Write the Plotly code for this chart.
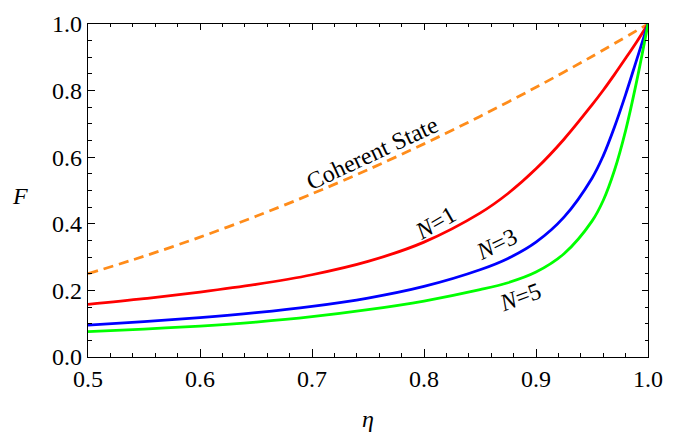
import plotly.graph_objects as go

# values (eta, F)
eta_c = [0.5, 0.55, 0.6, 0.65, 0.7, 0.75, 0.8, 0.85, 0.9, 0.95, 1.0]
coherent = [0.25, 0.3025, 0.36, 0.4225, 0.49, 0.5625, 0.64, 0.7225, 0.81, 0.9025, 1.0]

eta_n = [0.5, 0.55, 0.6, 0.65, 0.7, 0.75, 0.8, 0.85, 0.875, 0.9, 0.925, 0.95, 0.96, 0.97, 0.98, 0.99, 1.0]
n1 = [0.158, 0.175, 0.195, 0.218, 0.247, 0.287, 0.345, 0.432, 0.491, 0.565, 0.654, 0.757, 0.801, 0.848, 0.897, 0.947, 1.0]
n3 = [0.096, 0.106, 0.118, 0.133, 0.152, 0.177, 0.212, 0.262, 0.296, 0.345, 0.420, 0.537, 0.604, 0.690, 0.788, 0.894, 1.0]
n5 = [0.076, 0.084, 0.093, 0.105, 0.121, 0.142, 0.168, 0.202, 0.223, 0.255, 0.310, 0.408, 0.470, 0.560, 0.680, 0.830, 1.0]

x_ticks = [0.5, 0.6, 0.7, 0.8, 0.9, 1.0]
y_ticks = [0.0, 0.2, 0.4, 0.6, 0.8, 1.0]

labels = [
    ("Coherent State", 0.754, 0.613, -25),
    ("<i>N</i>=1", 0.810, 0.403, -30),
    ("<i>N</i>=3", 0.865, 0.340, -26),
    ("<i>N</i>=5", 0.886, 0.179, -20),
]

FONT = "Liberation Serif"

fig = go.Figure()
fig.add_trace(go.Scatter(x=eta_c, y=coherent, mode="lines", hoverinfo="skip",
                         line=dict(color="#FF8C1A", width=2.8, dash="10px,6px", shape="spline", smoothing=0.8)))
fig.add_trace(go.Scatter(x=eta_n, y=n1, mode="lines",
                         line=dict(color="#FF0000", width=2.8, shape="spline", smoothing=1.0)))
fig.add_trace(go.Scatter(x=eta_n, y=n3, mode="lines",
                         line=dict(color="#0000FF", width=2.8, shape="spline", smoothing=1.0)))
fig.add_trace(go.Scatter(x=eta_n, y=n5, mode="lines",
                         line=dict(color="#00FF00", width=2.8, shape="spline", smoothing=1.0)))
# invisible trace to host the mirrored (top/right) tick axes
fig.add_trace(go.Scatter(x=[x_ticks[0]], y=[y_ticks[0]], mode="lines", xaxis="x2", yaxis="y2",
                         hoverinfo="skip", opacity=0))

for text, x, y, ang in labels:
    fig.add_annotation(x=x, y=y, text=text, showarrow=False, textangle=ang,
                       font=dict(family=FONT, size=24, color="black"))

# axis titles (F is upright, as in the reference)
fig.add_annotation(xref="paper", yref="paper", x=-0.121, y=0.483, text="<i>F</i>", showarrow=False,
                   xanchor="center", yanchor="middle", font=dict(family=FONT, size=24, color="black"))
fig.add_annotation(xref="paper", yref="paper", x=0.5, y=-0.185, text="<i>η</i>", showarrow=False,
                   xanchor="center", yanchor="middle", font=dict(family=FONT, size=24, color="black"))

tickfont = dict(family=FONT, size=24, color="black")
common = dict(showgrid=False, zeroline=False, ticks="inside", tickcolor="black", tickwidth=1.1,
              tickformat=".1f")

fig.update_layout(
    width=692, height=440, showlegend=False,
    font=dict(family=FONT, size=24, color="black"),
    margin=dict(l=88, r=44, t=11, b=83),
    plot_bgcolor="white", paper_bgcolor="white",
    xaxis=dict(range=[0.5, 1.0], tickvals=x_ticks, ticklen=8, showline=True, linecolor="black",
               linewidth=1.3, mirror=True, tickfont=tickfont, ticklabeloverflow="allow",
               minor=dict(dtick=0.02, tick0=0.5, ticks="inside", ticklen=4, tickcolor="black", tickwidth=1),
               **common),
    yaxis=dict(range=[0.0, 1.0], tickvals=y_ticks, ticklen=7, showline=True, linecolor="black",
               linewidth=1.3, mirror=True, tickfont=tickfont, ticklabeloverflow="allow",
               minor=dict(dtick=0.05, tick0=0, ticks="inside", ticklen=4, tickcolor="black", tickwidth=1),
               **common),
    xaxis2=dict(range=[0.5, 1.0], tickvals=x_ticks, ticklen=6, side="top", overlaying="x", anchor="y2",
                showticklabels=False, showline=False,
                minor=dict(dtick=0.02, tick0=0.5, ticks="inside", ticklen=3, tickcolor="black", tickwidth=1),
                **common),
    yaxis2=dict(range=[0.0, 1.0], tickvals=y_ticks, ticklen=6, side="right", overlaying="y", anchor="x2",
                showticklabels=False, showline=False,
                minor=dict(dtick=0.05, tick0=0, ticks="inside", ticklen=3, tickcolor="black", tickwidth=1),
                **common),
)

fig.write_html("out.html")
